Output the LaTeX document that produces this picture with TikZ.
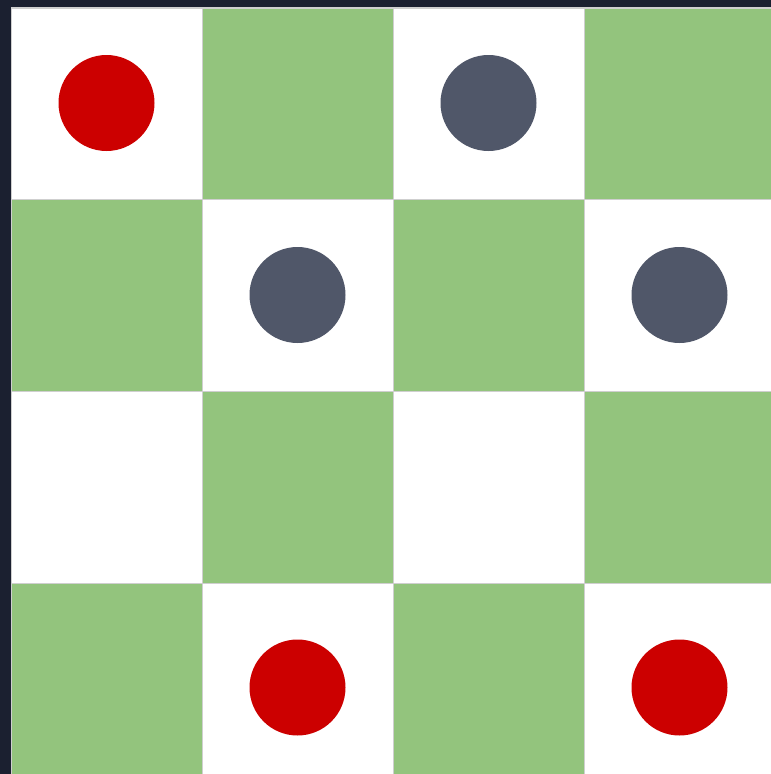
\documentclass[tikz,border=0pt]{standalone}
\usepackage{xcolor}
\usepackage{tikz}
\definecolor{boardbg}{HTML}{1B2030}
\definecolor{sqgreen}{HTML}{93C47D}
\definecolor{sqline}{HTML}{CFCFCF}
\definecolor{redman}{HTML}{CC0000}
\definecolor{greyman}{HTML}{505769}

\begin{document}
\begin{tikzpicture}[x=1pt, y=-1pt,
    square/.style={draw=sqline, line width=1.5pt, anchor=north west,
                   minimum width=191pt, minimum height=192pt, inner sep=0pt},
    piece/.style={circle, minimum size=96pt, inner sep=0pt}]
    \useasboundingbox (0,0) rectangle (771,774);
    \fill[boardbg] (0,0) rectangle (771,774);
    \begin{scope}
      \clip (0,0) rectangle (771,774);
      % board squares, white on even, green on odd
      \foreach \r/\y in {0/7, 1/198.5, 2/390.5, 3/582.5}{
        \foreach \c/\x in {0/10.5, 1/201.5, 2/392.5, 3/583.5}{
          \pgfmathtruncatemacro\odd{mod(\r+\c,2)}
          \ifnum\odd=1
            \node[square, fill=sqgreen] (sq-\r-\c) at (\x,\y) {};
          \else
            \node[square, fill=white] (sq-\r-\c) at (\x,\y) {};
          \fi
        }
      }
    \end{scope}
    % men
    \node[piece, fill=redman]  (red-a)  at (106.5,103) {};
    \node[piece, fill=greyman] (grey-a) at (488.5,103) {};
    \node[piece, fill=greyman] (grey-b) at (297.5,295) {};
    \node[piece, fill=greyman] (grey-c) at (679.5,295) {};
    \node[piece, fill=redman]  (red-b)  at (297.5,687.5) {};
    \node[piece, fill=redman]  (red-c)  at (679.5,687.5) {};
  \end{tikzpicture}
\end{document}
